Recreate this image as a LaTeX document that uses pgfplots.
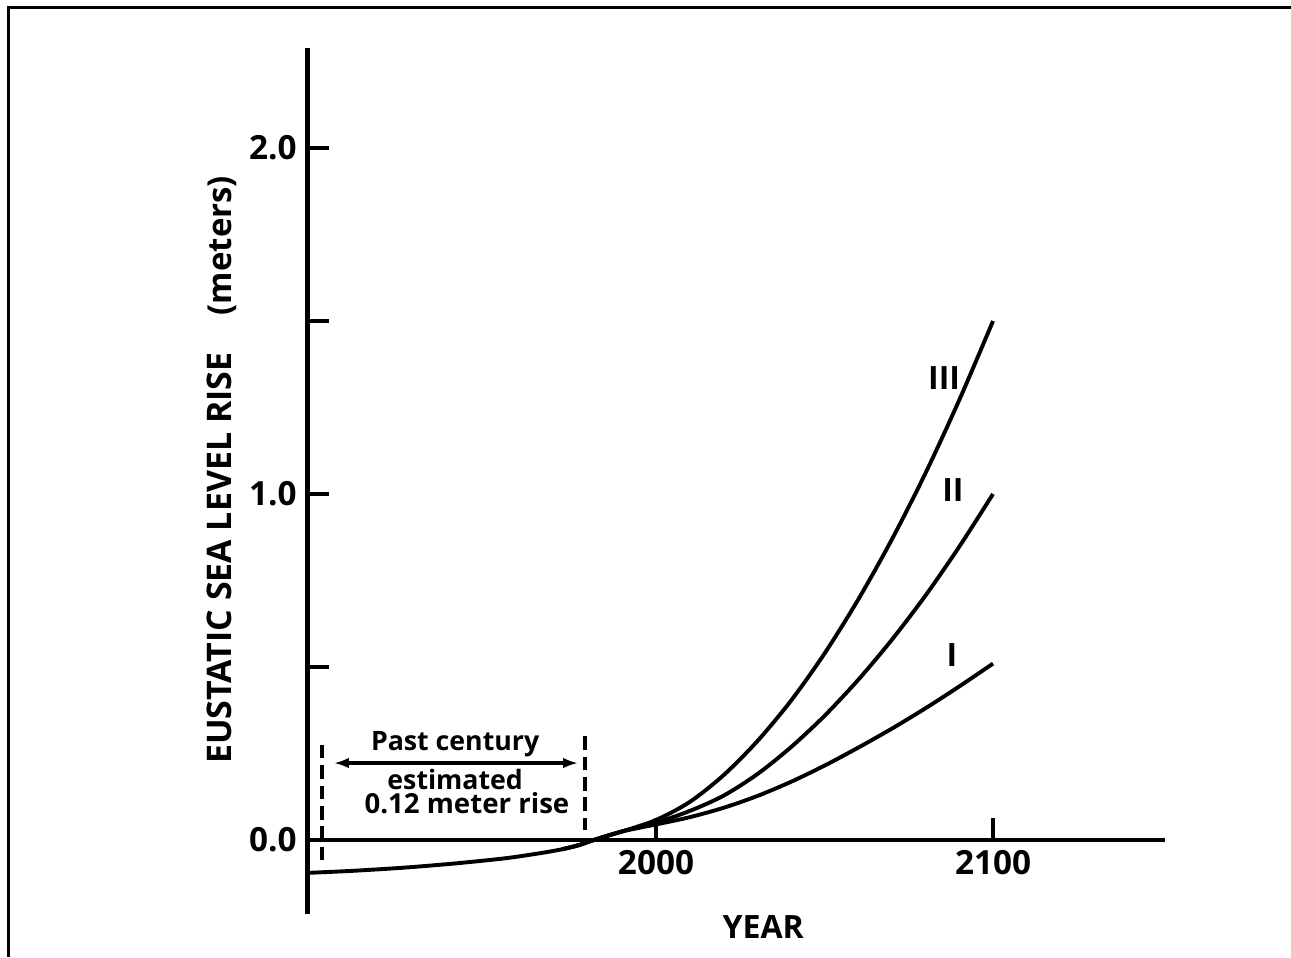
\documentclass[border=0pt]{standalone}
\usepackage{fontspec}
\setmainfont{Open Sans}
\usepackage{pgfplots}
\pgfplotsset{compat=1.18}
\usetikzlibrary{arrows.meta}
\begin{document}
\begin{tikzpicture}
\useasboundingbox (-102.4pt,-14.2pt) rectangle (327.93pt,304.8pt);
\draw[line width=1pt] (-99.4pt,-14.2pt) -- (-99.4pt,302.3pt) -- (327.93pt,302.3pt);
\begin{axis}[
  at={(0pt,0pt)}, anchor=south west,
  x=1.12333pt, y=115.333pt,
  xmin=1896.5, xmax=2151, ymin=-0.215, ymax=2.29,
  axis y line*=left, axis x line*=middle,
  axis line style={line width=1.6pt, black},
  hide obscured x ticks=false, hide obscured y ticks=false,
  xtick={2000,2100}, xticklabels={2000,2100},
  ytick={0,0.5,1,1.5,2}, yticklabels={0.0,,1.0,,2.0},
  tick align=inside, major tick length=7.3pt,
  tick style={line width=1.3pt, black},
  minor tick num=0,
  tick label style={font=\fontsize{11.1}{12}\selectfont\bfseries},
  /pgf/number format/assume math mode=true,
  clip=false,
]
\addplot[line width=1.3pt, smooth] coordinates {(1896.5,-0.095) (1910,-0.089) (1925,-0.080) (1940,-0.068) (1955,-0.053) (1965,-0.039) (1972,-0.027) (1977,-0.015) (1981.5,0) (1990,0.025) (2000,0.045) (2010,0.066) (2020,0.093) (2030,0.127) (2040,0.168) (2050,0.215) (2060,0.267) (2070,0.322) (2080,0.381) (2090,0.444) (2100,0.51)};
\addplot[line width=1.3pt, smooth] coordinates {(1972,-0.027) (1977,-0.015) (1981.5,0) (1990,0.025) (2000,0.050) (2010,0.084) (2020,0.128) (2030,0.19) (2040,0.268) (2050,0.359) (2060,0.463) (2070,0.579) (2080,0.707) (2090,0.848) (2100,1.0)};
\addplot[line width=1.3pt, smooth] coordinates {(1972,-0.027) (1977,-0.015) (1981.5,0) (1990,0.025) (2000,0.058) (2010,0.110) (2020,0.187) (2030,0.285) (2040,0.402) (2050,0.539) (2060,0.695) (2070,0.869) (2080,1.061) (2090,1.272) (2100,1.5)};
\draw[line width=1.3pt, dash pattern=on 4.5pt off 2.3pt] (axis cs:1901,0.275) -- (axis cs:1901,-0.066);
\draw[line width=1.3pt, dash pattern=on 4.5pt off 2.3pt] (axis cs:1979,0.30) -- (axis cs:1979,0.029);
\draw[line width=1.1pt, {Latex[length=5pt,width=3.5pt]}-{Latex[length=5pt,width=3.5pt]}] (axis cs:1904.4,0.2225) -- (axis cs:1976.9,0.2225);
\node[font=\fontsize{8.9}{10}\selectfont\bfseries] at (axis cs:1940.4,0.277) {Past century};
\node[font=\fontsize{8.9}{10}\selectfont\bfseries] at (axis cs:1940.4,0.176) {estimated};
\node[font=\fontsize{9.2}{10}\selectfont\bfseries] at (axis cs:1943.9,0.107) {0.12 meter rise};
\node[font=\fontsize{10.7}{12}\selectfont\bfseries] at (axis cs:2085.5,1.335) {III};
\node[font=\fontsize{10.7}{12}\selectfont\bfseries] at (axis cs:2088.1,1.012) {II};
\node[font=\fontsize{10.7}{12}\selectfont\bfseries] at (axis cs:2087.8,0.535) {I};
\node[font=\fontsize{10.7}{12}\selectfont\bfseries] at (axis cs:2031.8,-0.2526) {YEAR};
\node[font=\bfseries, rotate=90] at (axis cs:1871.2,1.07) {\fontsize{11.3}{12}\selectfont EUSTATIC SEA LEVEL RISE\hspace{1.1em}\fontsize{11}{12}\selectfont(meters)};
\end{axis}
\end{tikzpicture}
\end{document}
